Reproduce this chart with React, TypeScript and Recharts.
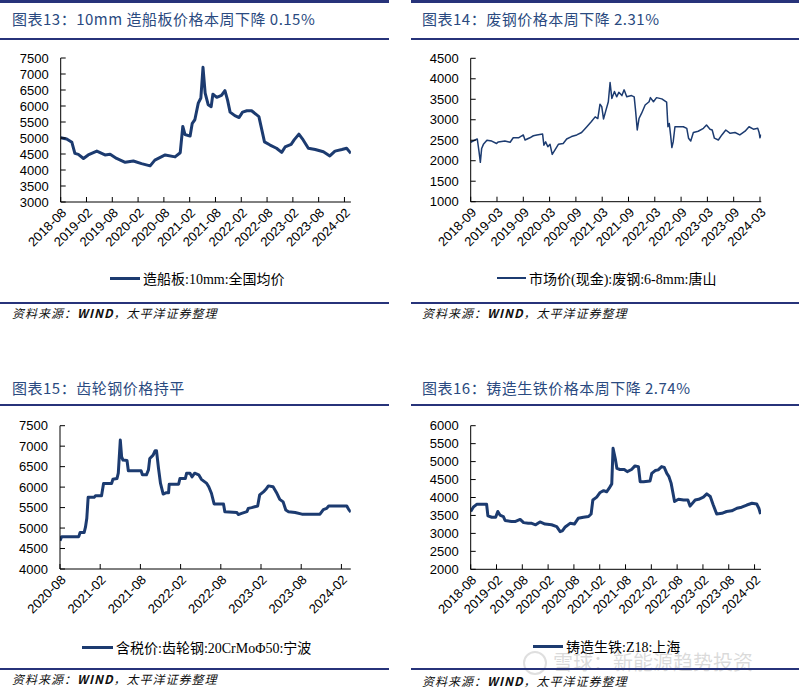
import React from "react";
import { LineChart, Line, XAxis, YAxis } from "recharts";

// 图表13 造船板 10mm 全国均价 (months since 2018-08)
const shipMonths = [0, 1.4, 2.6, 3.3, 4.1, 5.3, 6.4, 8.4, 10.3, 11.5, 13.0, 15.0, 16.9, 18.8, 20.8, 21.9, 24.3, 26.6, 27.8, 28.4, 28.9, 30.1, 30.6, 31.2, 32.0, 32.6, 33.1, 33.6, 34.3, 35.0, 35.4, 36.3, 37.4, 38.2, 38.8, 39.4, 40.5, 41.5, 42.3, 43.3, 44.4, 46.1, 47.4, 48.7, 50.2, 51.4, 52.2, 53.6, 54.3, 55.4, 56.4, 57.6, 59.2, 61.1, 62.6, 63.8, 65.4, 66.5, 67.5];
const shipPrice = [5010, 4970, 4865, 4520, 4490, 4360, 4470, 4590, 4470, 4490, 4360, 4240, 4280, 4200, 4130, 4310, 4470, 4410, 4540, 5360, 5110, 5060, 5460, 5570, 6090, 6250, 7210, 6400, 6040, 5980, 6370, 6270, 6330, 6480, 6190, 5810, 5700, 5640, 5810, 5850, 5850, 5670, 4880, 4780, 4680, 4550, 4720, 4800, 4940, 5120, 4940, 4680, 4640, 4570, 4440, 4590, 4640, 4680, 4520];

// 图表14 废钢 6-8mm 唐山 (months since 2018-09)
const scrapMonths = [0, 1.0, 1.5, 1.9, 2.2, 2.5, 2.9, 3.7, 4.8, 5.9, 6.3, 7.8, 9.0, 9.7, 10.9, 12.0, 12.4, 13.5, 14.3, 15.1, 16.4, 16.7, 17.1, 17.6, 18.1, 18.6, 19.2, 20.0, 21.1, 21.9, 23.0, 24.2, 25.3, 26.5, 27.5, 28.4, 29.0, 29.5, 29.9, 30.3, 30.8, 31.4, 31.8, 32.2, 32.8, 33.3, 33.8, 34.5, 35.0, 35.6, 36.7, 37.3, 37.6, 38.0, 38.4, 39.0, 39.8, 40.7, 41.0, 41.7, 42.4, 43.6, 44.7, 45.0, 45.3, 45.6, 45.9, 46.2, 46.6, 47.4, 48.5, 49.3, 49.7, 50.2, 50.8, 51.9, 53.1, 53.8, 54.6, 55.1, 55.6, 56.5, 57.3, 58.2, 59.2, 60.3, 61.4, 62.6, 63.5, 64.5, 65.5, 65.8, 66.0, 66.2];
const scrapPrice = [2450, 2505, 2530, 2220, 1960, 2300, 2400, 2500, 2480, 2420, 2460, 2480, 2450, 2560, 2560, 2630, 2505, 2560, 2610, 2630, 2650, 2380, 2460, 2340, 2400, 2155, 2260, 2400, 2420, 2530, 2590, 2630, 2690, 2830, 2950, 3070, 3030, 3380, 3320, 3020, 3210, 3440, 3910, 3520, 3690, 3560, 3670, 3590, 3730, 3560, 3590, 3560, 3240, 2750, 3030, 3160, 3360, 3440, 3540, 3440, 3540, 3510, 3430, 2830, 2910, 2630, 2320, 2460, 2830, 2830, 2830, 2790, 2550, 2480, 2690, 2720, 2790, 2870, 2770, 2750, 2550, 2505, 2630, 2750, 2670, 2690, 2630, 2720, 2830, 2770, 2790, 2690, 2560, 2640];

// 图表15 齿轮钢 20CrMoΦ50 宁波 (months since 2020-08)
const gearMonths = [0, 0.25, 2.8, 3.0, 3.6, 3.8, 4.0, 4.2, 5.1, 5.3, 6.2, 6.5, 7.7, 7.9, 8.5, 8.7, 9.0, 9.2, 9.4, 10.0, 10.2, 12.1, 12.3, 12.9, 13.2, 13.4, 13.9, 14.2, 14.4, 14.7, 15.0, 15.4, 15.8, 16.2, 16.3, 17.7, 17.9, 18.7, 18.9, 19.4, 19.7, 20.1, 20.7, 21.1, 21.9, 22.2, 22.6, 23.0, 24.4, 24.6, 26.4, 26.6, 27.1, 27.9, 28.1, 28.6, 29.5, 29.8, 30.4, 30.7, 31.1, 31.8, 32.3, 32.8, 33.3, 33.7, 34.1, 35.1, 36.1, 38.8, 39.3, 39.8, 40.1, 42.8, 43.1, 43.4];
const gearPrice = [4690, 4790, 4790, 4890, 4890, 5020, 5240, 5750, 5750, 5790, 5790, 6090, 6090, 6190, 6210, 6340, 7150, 6740, 6660, 6650, 6400, 6400, 6300, 6300, 6420, 6700, 6780, 6890, 6890, 6460, 6090, 5830, 5860, 5860, 6070, 6070, 6210, 6210, 6340, 6340, 6250, 6340, 6300, 6190, 6090, 6010, 5850, 5590, 5590, 5400, 5380, 5330, 5360, 5400, 5480, 5500, 5540, 5810, 5890, 5940, 6030, 6010, 5870, 5700, 5640, 5440, 5400, 5380, 5340, 5340, 5450, 5480, 5540, 5540, 5450, 5390];

// 图表16 铸造生铁 Z18 上海 (months since 2018-08)
const ironMonths = [0, 0.6, 1.4, 3.7, 4.0, 4.9, 5.8, 6.3, 6.8, 7.6, 8.0, 9.5, 10.3, 11.5, 12.3, 13.4, 14.2, 15.1, 16.1, 17.3, 18.8, 20.0, 20.8, 21.3, 21.9, 23.1, 24.1, 25.0, 26.2, 27.4, 28.0, 28.4, 29.3, 30.1, 30.9, 31.6, 32.2, 32.8, 33.1, 33.6, 34.0, 34.7, 35.7, 36.4, 37.4, 38.2, 39.0, 39.4, 40.2, 41.7, 42.1, 42.9, 43.6, 44.4, 45.0, 45.6, 46.1, 46.6, 46.9, 47.4, 48.3, 49.5, 50.5, 51.0, 52.2, 53.0, 54.1, 54.9, 55.7, 56.4, 57.2, 58.4, 59.5, 60.7, 61.9, 63.0, 64.2, 65.4, 66.5, 67.0, 67.4];
const ironPrice = [3610, 3730, 3810, 3810, 3490, 3450, 3450, 3610, 3510, 3470, 3360, 3330, 3330, 3390, 3300, 3280, 3280, 3240, 3320, 3260, 3240, 3190, 3050, 3070, 3170, 3280, 3260, 3420, 3450, 3470, 3540, 3930, 4010, 4140, 4190, 4160, 4260, 4380, 5370, 5090, 4810, 4780, 4780, 4720, 4780, 4880, 4860, 4440, 4440, 4460, 4670, 4750, 4770, 4860, 4840, 4670, 4580, 4400, 4210, 3890, 3950, 3930, 3930, 3760, 3930, 3950, 4010, 4100, 4030, 3790, 3540, 3560, 3610, 3630, 3700, 3730, 3790, 3840, 3820, 3700, 3540];

const ticks0808 = ["2018-08", "2019-02", "2019-08", "2020-02", "2020-08", "2021-02", "2021-08", "2022-02", "2022-08", "2023-02", "2023-08", "2024-02"];
const ticks0903 = ["2018-09", "2019-03", "2019-09", "2020-03", "2020-09", "2021-03", "2021-09", "2022-03", "2022-09", "2023-03", "2023-09", "2024-03"];
const ticks2008 = ["2020-08", "2021-02", "2021-08", "2022-02", "2022-08", "2023-02", "2023-08", "2024-02"];

const shipTicks = [3000, 3500, 4000, 4500, 5000, 5500, 6000, 6500, 7000, 7500];
const scrapTicks = [1000, 1500, 2000, 2500, 3000, 3500, 4000, 4500];
const gearTicks = [4000, 4500, 5000, 5500, 6000, 6500, 7000, 7500];
const ironTicks = [2000, 2500, 3000, 3500, 4000, 4500, 5000, 5500, 6000];

const NAVY = "#1c3b70";
const RULE = "#27337a";
const TITLE = "#2a4a80";
const AXIS_FONT = "'Liberation Sans', Arial, sans-serif";
const CJK = "'Noto Sans CJK SC', sans-serif";

const toRows = (months: number[], values: number[]) =>
  months.map((m, i) => ({ m, v: values[i] }));

function Chart({ left, top, x0, x1, y0, y1, rows, yTicks, xMax, labels, sw }: any) {
  const w = 400;
  const h = 270;
  const axisH = 60;
  return (
    <div style={{ position: "absolute", left, top }}>
      <LineChart
        width={w}
        height={h}
        data={rows}
        margin={{ top: y0, left: 0, right: w - x1, bottom: h - y1 - axisH }}
      >
        <XAxis
          type="number"
          dataKey="m"
          domain={[0, xMax]}
          ticks={labels.map((_: string, i: number) => i * 6)}
          tickFormatter={(v: number) => labels[Math.round(v / 6)]}
          interval={0}
          height={axisH}
          tickSize={-5}
          tickMargin={10}
          angle={-45}
          textAnchor="end"
          stroke="#000"
          tick={{ fill: "#000", fontSize: 13, fontFamily: AXIS_FONT }}
          allowDataOverflow
        />
        <YAxis
          type="number"
          domain={[yTicks[0], yTicks[yTicks.length - 1]]}
          ticks={yTicks}
          interval={0}
          width={x0}
          tickSize={-5}
          tickMargin={17}
          stroke="#000"
          tick={{ fill: "#000", fontSize: 13, fontFamily: AXIS_FONT }}
          allowDataOverflow
        />
        <Line
          type="linear"
          dataKey="v"
          stroke={NAVY}
          strokeWidth={sw}
          strokeLinejoin="round"
          dot={false}
          isAnimationActive={false}
        />
      </LineChart>
    </div>
  );
}

function Rule({ left, top, width, h = 1.5 }: any) {
  return <div style={{ position: "absolute", left, top, width, height: h, background: RULE }} />;
}

function Title({ left, top, children }: any) {
  return (
    <div style={{ position: "absolute", left, top, fontFamily: CJK, fontSize: 15, color: TITLE, whiteSpace: "nowrap", letterSpacing: 0.5 }}>
      {children}
    </div>
  );
}

function Source({ left, top }: any) {
  return (
    <div style={{ position: "absolute", left, top, fontFamily: CJK, fontSize: 12, fontStyle: "italic", color: "#111", whiteSpace: "nowrap", letterSpacing: 1 }}>
      资料来源：<b>WIND</b>，太平洋证券整理
    </div>
  );
}

function LegendItem({ left, top, lineW, sw, name }: any) {
  return (
    <div style={{ position: "absolute", left, top, display: "flex", alignItems: "center", whiteSpace: "nowrap" }}>
      <div style={{ width: lineW, height: sw, background: NAVY, marginRight: 3 }} />
      <span style={{ fontFamily: "'Liberation Serif', 'Noto Sans CJK SC', serif", fontSize: 14, color: "#000" }}>{name}</span>
    </div>
  );
}

export default function App() {
  return (
    <div style={{ position: "absolute", left: 0, top: 0, width: 799, height: 688, background: "#fff", overflow: "hidden" }}>
      {/* top-left */}
      <Rule left={0} top={0} width={389} h={3} />
      <Title left={12} top={8}>图表13：10mm 造船板价格本周下降 0.15%</Title>
      <Rule left={0} top={38} width={389} />
      <Chart left={0} top={0} x0={60.7} x1={350.9} y0={58} y1={202} rows={toRows(shipMonths, shipPrice)} yTicks={shipTicks} xMax={67.5} labels={ticks0808} sw={3} />
      <LegendItem left={110} top={268} lineW={30} sw={3} name="造船板:10mm:全国均价" />
      <Rule left={0} top={302} width={389} />
      <Source left={12} top={304} />

      {/* top-right */}
      <Rule left={411} top={0} width={388} h={3} />
      <Title left={422} top={8}>图表14：废钢价格本周下降 2.31%</Title>
      <Rule left={411} top={38} width={388} />
      <Chart left={400} top={0} x0={70.7} x1={361.3} y0={58.3} y1={201.7} rows={toRows(scrapMonths, scrapPrice)} yTicks={scrapTicks} xMax={66.3} labels={ticks0903} sw={1.5} />
      <LegendItem left={497} top={268} lineW={29} sw={1.5} name="市场价(现金):废钢:6-8mm:唐山" />
      <Rule left={411} top={302} width={388} />
      <Source left={422} top={304} />

      {/* bottom-left */}
      <Title left={12} top={377}>图表15：齿轮钢价格持平</Title>
      <Rule left={0} top={404} width={389} />
      <Chart left={0} top={370} x0={60} x1={350.8} y0={55.7} y1={199} rows={toRows(gearMonths, gearPrice)} yTicks={gearTicks} xMax={43.4} labels={ticks2008} sw={3} />
      <LegendItem left={82} top={637} lineW={31} sw={3} name="含税价:齿轮钢:20CrMoΦ50:宁波" />
      <Rule left={0} top={668} width={389} />
      <Source left={12} top={670} />

      {/* bottom-right */}
      <Title left={422} top={377}>图表16：铸造生铁价格本周下降 2.74%</Title>
      <Rule left={411} top={404} width={388} />
      <Chart left={400} top={370} x0={70.7} x1={361} y0={55.7} y1={199.3} rows={toRows(ironMonths, ironPrice)} yTicks={ironTicks} xMax={67.5} labels={ticks0808} sw={3} />
      <LegendItem left={533} top={636} lineW={30} sw={3} name="铸造生铁:Z18:上海" />
      <div style={{ position: "absolute", left: 523, top: 651, width: 20, height: 20, borderRadius: "50%", border: "2px solid rgba(150,150,150,0.3)" }} />
      <div style={{ position: "absolute", left: 553, top: 652, height: 20, lineHeight: "20px", fontFamily: CJK, fontSize: 20, color: "rgba(150,150,150,0.35)", whiteSpace: "nowrap" }}>
        雪球：新能源趋势投资
      </div>
      <Rule left={411} top={668} width={388} />
      <Source left={422} top={672} />
    </div>
  );
}
